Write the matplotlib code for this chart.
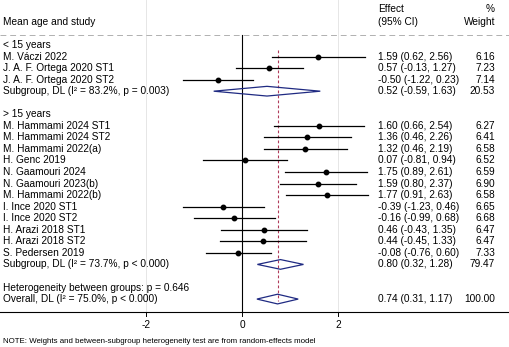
import matplotlib.pyplot as plt
from matplotlib.patches import Polygon

plt.rcParams['font.family'] = ['Liberation Sans', 'DejaVu Sans']

# data
g1_studies = ['M. Váczi 2022', 'J. A. F. Ortega 2020 ST1', 'J. A. F. Ortega 2020 ST2']
g1_eff = [1.59, 0.57, -0.50]
g1_lo = [0.62, -0.13, -1.22]
g1_hi = [2.56, 1.27, 0.23]
g1_w = [6.16, 7.23, 7.14]

g2_studies = ['M. Hammami 2024 ST1', 'M. Hammami 2024 ST2', 'M. Hammami 2022(a)',
              'H. Genc 2019', 'N. Gaamouri 2024', 'N. Gaamouri 2023(b)',
              'M. Hammami 2022(b)', 'I. Ince 2020 ST1', 'I. Ince 2020 ST2',
              'H. Arazi 2018 ST1', 'H. Arazi 2018 ST2', 'S. Pedersen 2019']
g2_eff = [1.60, 1.36, 1.32, 0.07, 1.75, 1.59, 1.77, -0.39, -0.16, 0.46, 0.44, -0.08]
g2_lo = [0.66, 0.46, 0.46, -0.81, 0.89, 0.80, 0.91, -1.23, -0.99, -0.43, -0.45, -0.76]
g2_hi = [2.54, 2.26, 2.19, 0.94, 2.61, 2.37, 2.63, 0.46, 0.68, 1.35, 1.33, 0.60]
g2_w = [6.27, 6.41, 6.58, 6.52, 6.59, 6.90, 6.58, 6.65, 6.68, 6.47, 6.47, 7.33]

sub_labels = ['Subgroup, DL (I² = 83.2%, p = 0.003)', 'Subgroup, DL (I² = 73.7%, p < 0.000)']
sub_eff = [0.52, 0.80]
sub_lo = [-0.59, 0.32]
sub_hi = [1.63, 1.28]
sub_w = [20.53, 79.47]

overall_label = 'Overall, DL (I² = 75.0%, p < 0.000)'
overall = (0.74, 0.31, 1.17, 100.00)
het_label = 'Heterogeneity between groups: p = 0.646'
xticks = [-2, 0, 2]

fig = plt.figure(figsize=(5.09, 3.47), dpi=100)
ax = fig.add_axes([0, 0, 1, 1])
ax.set_xlim(-5.04, 5.56)
ax.set_ylim(26.15, -3.896)
ax.axis('off')

fs = 7.3
navy = '#1f2a82'
x_lab = -4.98
x_eff = 2.83
x_w = 5.27

def fmt(e, l, h):
    return '%.2f (%.2f, %.2f)' % (e, l, h)

def diamond(y, e, l, h):
    p = Polygon([[l, y], [e, y - 0.42], [h, y], [e, y + 0.42]], closed=True,
                fill=False, edgecolor=navy, lw=0.9, zorder=4)
    ax.add_patch(p)

# header
ax.text(x_lab, -2.0, 'Mean age and study', fontsize=fs, va='center')
ax.text(x_eff, -3.1, 'Effect', fontsize=fs, va='center')
ax.text(x_eff, -1.95, '(95% CI)', fontsize=fs, va='center')
ax.text(x_w, -3.1, '%', fontsize=fs, va='center', ha='right')
ax.text(x_w, -1.95, 'Weight', fontsize=fs, va='center', ha='right')
ax.axhline(-0.9, color='#b0b0b0', lw=0.7, ls=(0, (6, 4)))

axis_y = 23.1
# grid + zero line
for t in [-2, 2]:
    ax.plot([t, t], [-3.896, axis_y], color='#e6e6e6', lw=0.7, zorder=0)
ax.plot([0, 0], [-0.9, axis_y], color='black', lw=0.8, zorder=1)
ax.plot([overall[0], overall[0]], [0.45, 22.2], color='#b03a5a', lw=0.8,
        ls=(0, (2.5, 2)), zorder=2)

def draw_group(start, title, studies, eff, lo, hi, w, slab, se, sl, sh, sw):
    ax.text(x_lab, start, title, fontsize=fs, va='center')
    for i in range(len(studies)):
        y = start + 1 + i
        ax.text(x_lab, y, studies[i], fontsize=fs, va='center')
        ax.plot([lo[i], hi[i]], [y, y], color='black', lw=0.9, zorder=3)
        ax.plot(eff[i], y, 'o', color='black', ms=3.2, zorder=3)
        ax.text(x_eff, y, fmt(eff[i], lo[i], hi[i]), fontsize=fs, va='center')
        ax.text(x_w, y, '%.2f' % w[i], fontsize=fs, va='center', ha='right')
    y = start + 1 + len(studies)
    ax.text(x_lab, y, slab, fontsize=fs, va='center')
    diamond(y, se, sl, sh)
    ax.text(x_eff, y, fmt(se, sl, sh), fontsize=fs, va='center')
    ax.text(x_w, y, '%.2f' % sw, fontsize=fs, va='center', ha='right')
    return y

y_end = draw_group(0, '< 15 years', g1_studies, g1_eff, g1_lo, g1_hi, g1_w,
                   sub_labels[0], sub_eff[0], sub_lo[0], sub_hi[0], sub_w[0])
y_end = draw_group(y_end + 2, '> 15 years', g2_studies, g2_eff, g2_lo, g2_hi, g2_w,
                   sub_labels[1], sub_eff[1], sub_lo[1], sub_hi[1], sub_w[1])

ax.text(x_lab, y_end + 2, het_label, fontsize=fs, va='center')
y_ov = y_end + 3
ax.text(x_lab, y_ov, overall_label, fontsize=fs, va='center')
diamond(y_ov, overall[0], overall[1], overall[2])
ax.text(x_eff, y_ov, fmt(overall[0], overall[1], overall[2]), fontsize=fs, va='center')
ax.text(x_w, y_ov, '%.2f' % overall[3], fontsize=fs, va='center', ha='right')

# x axis
ax.plot([-5.04, 5.56], [axis_y, axis_y], color='black', lw=0.8)
for t in xticks:
    ax.plot([t, t], [axis_y, axis_y + 0.4], color='black', lw=0.7)
    ax.text(t, axis_y + 1.15, str(t), fontsize=fs, ha='center', va='center')

ax.text(x_lab, 25.7, 'NOTE: Weights and between-subgroup heterogeneity test are from random-effects model',
        fontsize=5.7, va='center')

fig.savefig('out.png', dpi=100)
